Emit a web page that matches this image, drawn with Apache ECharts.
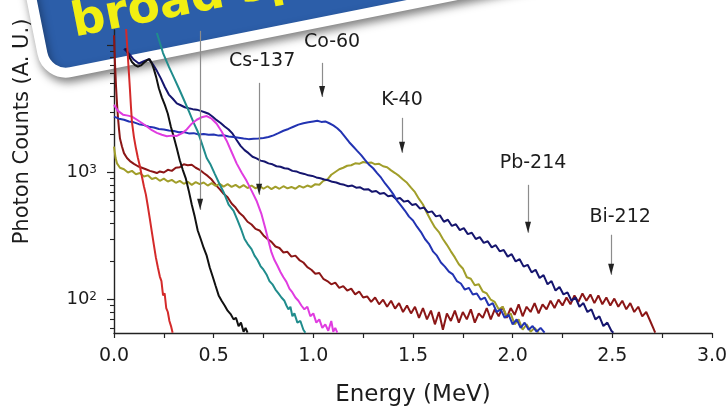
<!DOCTYPE html>
<html>
<head>
<meta charset="utf-8">
<script src="https://cdn.jsdelivr.net/npm/echarts@6/dist/echarts.min.js"></script>
<style>
  html, body { margin: 0; padding: 0; background: #ffffff; }
  #chart { width: 728px; height: 407px; }
</style>
</head>
<body>
<div id="chart"></div>
<script>
// Gamma spectra, photon counts (A. U.) against energy (MeV), one array of [energy, counts] per trace.
const redSpectrum = [[0.060,14000],[0.065,10500],[0.070,8000],[0.075,6000],[0.080,4500],[0.085,3300],[0.090,2500],[0.100,1900],[0.110,1550],[0.120,1300],[0.130,1120],[0.140,930],[0.150,780],[0.160,670],[0.170,540],[0.180,430],[0.190,340],[0.200,270],[0.210,215],[0.220,180],[0.230,152],[0.238,140],[0.246,108],[0.254,112],[0.262,86],[0.270,80],[0.278,68],[0.286,62],[0.294,55]];

const maroonSpectrum = [[0.000,12000],[0.005,7200],[0.010,4800],[0.015,3500],[0.020,2700],[0.025,2200],[0.030,1850],[0.040,1600],[0.050,1420],[0.065,1300],[0.080,1230],[0.100,1170],[0.120,1120],[0.140,1090],[0.160,1060],[0.180,1030],[0.200,1010],[0.215,990],[0.230,1020],[0.250,1000],[0.270,1050],[0.290,1030],[0.310,1090],[0.330,1100],[0.350,1160],[0.370,1140],[0.390,1150],[0.410,1090],[0.430,1050],[0.450,990],[0.470,940],[0.490,880],[0.510,800],[0.530,740],[0.550,680],[0.570,640],[0.590,570],[0.610,530],[0.630,480],[0.650,450],[0.670,410],[0.690,390],[0.710,360],[0.730,350],[0.750,320],[0.770,300],[0.790,285],[0.810,262],[0.830,255],[0.850,235],[0.870,238],[0.890,218],[0.910,222],[0.930,205],[0.950,196],[0.970,180],[0.990,172],[1.010,160],[1.030,162],[1.050,146],[1.070,140],[1.090,132],[1.110,136],[1.130,124],[1.150,128],[1.170,118],[1.190,122],[1.210,110],[1.230,116],[1.250,104],[1.270,106],[1.290,96],[1.310,104],[1.330,92],[1.350,100],[1.370,88],[1.390,98],[1.410,85],[1.430,94],[1.450,80],[1.470,90],[1.490,78],[1.510,88],[1.530,72],[1.550,86],[1.570,70],[1.590,82],[1.610,64],[1.630,80],[1.650,58],[1.670,78],[1.690,68],[1.710,82],[1.730,66],[1.750,80],[1.770,70],[1.790,84],[1.810,66],[1.830,78],[1.850,72],[1.870,86],[1.890,70],[1.910,84],[1.930,74],[1.950,88],[1.970,72],[1.990,86],[2.010,76],[2.030,92],[2.050,74],[2.070,88],[2.090,80],[2.110,94],[2.130,78],[2.150,92],[2.170,84],[2.190,98],[2.210,86],[2.230,100],[2.250,90],[2.270,104],[2.290,92],[2.310,108],[2.330,96],[2.350,112],[2.370,98],[2.390,110],[2.410,94],[2.430,108],[2.450,92],[2.470,104],[2.490,90],[2.510,102],[2.530,88],[2.550,98],[2.570,84],[2.590,94],[2.610,80],[2.630,88],[2.650,74],[2.670,80],[2.690,68],[2.705,60],[2.715,55]];

const blackSpectrum = [[0.060,9500],[0.075,8200],[0.090,7400],[0.105,7000],[0.120,6800],[0.135,6950],[0.150,7300],[0.165,7600],[0.178,7800],[0.190,7200],[0.200,6500],[0.212,5600],[0.225,4600],[0.240,3900],[0.255,3400],[0.270,2900],[0.285,2300],[0.300,1900],[0.315,1550],[0.330,1250],[0.345,1050],[0.360,900],[0.375,720],[0.390,560],[0.405,450],[0.420,350],[0.435,300],[0.450,255],[0.465,222],[0.480,180],[0.495,152],[0.510,128],[0.525,108],[0.540,98],[0.555,90],[0.570,82],[0.585,77],[0.600,70],[0.612,72],[0.625,62],[0.637,66],[0.650,56],[0.660,60],[0.670,55]];

const tealSpectrum = [[0.215,12500],[0.246,8700],[0.275,6800],[0.300,5600],[0.325,4600],[0.350,3750],[0.377,3000],[0.400,2460],[0.420,2100],[0.443,1650],[0.465,1300],[0.485,1150],[0.505,980],[0.528,820],[0.550,700],[0.575,560],[0.600,500],[0.620,420],[0.640,350],[0.655,300],[0.670,275],[0.690,250],[0.705,222],[0.720,205],[0.735,184],[0.750,172],[0.765,158],[0.780,140],[0.795,132],[0.810,120],[0.825,112],[0.840,104],[0.855,98],[0.865,90],[0.875,84],[0.885,88],[0.895,74],[0.905,78],[0.920,66],[0.935,68],[0.950,58],[0.960,55]];

const magentaSpectrum = [[0.000,3400],[0.020,3050],[0.045,2850],[0.070,2800],[0.090,2750],[0.115,2600],[0.140,2450],[0.165,2300],[0.190,2150],[0.215,2050],[0.240,1980],[0.265,1930],[0.290,1950],[0.315,1940],[0.340,2030],[0.365,2180],[0.390,2420],[0.415,2600],[0.440,2720],[0.465,2780],[0.490,2650],[0.515,2420],[0.540,2100],[0.565,1780],[0.590,1450],[0.615,1180],[0.640,1000],[0.665,860],[0.690,720],[0.715,600],[0.740,470],[0.760,360],[0.775,290],[0.790,235],[0.805,205],[0.820,185],[0.835,165],[0.850,150],[0.865,138],[0.880,122],[0.895,114],[0.910,104],[0.925,98],[0.940,90],[0.955,84],[0.970,88],[0.985,74],[1.000,78],[1.015,66],[1.030,70],[1.045,60],[1.060,64],[1.075,57],[1.090,68],[1.100,56],[1.110,60],[1.120,55]];

const blueSpectrum = [[0.000,2750],[0.025,2650],[0.050,2600],[0.075,2520],[0.100,2480],[0.125,2400],[0.150,2360],[0.175,2290],[0.200,2260],[0.225,2200],[0.250,2180],[0.275,2140],[0.300,2120],[0.325,2070],[0.350,2080],[0.375,2030],[0.400,2040],[0.425,1990],[0.450,2010],[0.475,1980],[0.500,1990],[0.525,1950],[0.550,1960],[0.575,1920],[0.600,1900],[0.625,1880],[0.650,1850],[0.675,1830],[0.700,1840],[0.725,1850],[0.750,1870],[0.775,1900],[0.800,1960],[0.825,2040],[0.850,2130],[0.875,2200],[0.900,2290],[0.925,2380],[0.950,2440],[0.975,2480],[1.000,2520],[1.020,2550],[1.040,2500],[1.060,2520],[1.080,2440],[1.100,2350],[1.120,2230],[1.140,2080],[1.160,1900],[1.180,1730],[1.200,1600],[1.220,1480],[1.240,1370],[1.260,1250],[1.280,1150],[1.300,1080],[1.320,990],[1.340,910],[1.360,820],[1.380,750],[1.400,680],[1.420,600],[1.440,550],[1.460,500],[1.480,450],[1.500,420],[1.520,375],[1.540,340],[1.560,300],[1.580,275],[1.600,240],[1.620,222],[1.640,196],[1.660,182],[1.680,166],[1.700,158],[1.720,140],[1.740,134],[1.760,120],[1.780,124],[1.800,110],[1.820,112],[1.840,100],[1.860,104],[1.880,90],[1.900,94],[1.920,80],[1.940,84],[1.960,72],[1.980,76],[2.000,64],[2.020,70],[2.040,60],[2.060,66],[2.080,58],[2.100,62],[2.120,56],[2.140,60],[2.160,55]];

const navySpectrum = [[0.050,9400],[0.075,8600],[0.100,7700],[0.125,7200],[0.150,7500],[0.175,7800],[0.195,7100],[0.215,6300],[0.235,5500],[0.255,4700],[0.275,4100],[0.295,3800],[0.315,3500],[0.335,3380],[0.355,3260],[0.375,3200],[0.395,3150],[0.415,3120],[0.435,3050],[0.455,2980],[0.475,2900],[0.495,2740],[0.515,2580],[0.535,2450],[0.555,2300],[0.575,2180],[0.595,2020],[0.615,1800],[0.635,1620],[0.655,1500],[0.675,1420],[0.695,1330],[0.715,1290],[0.735,1240],[0.755,1220],[0.775,1180],[0.795,1160],[0.815,1120],[0.835,1110],[0.855,1080],[0.875,1070],[0.895,1030],[0.915,1020],[0.935,990],[0.955,975],[0.975,950],[0.995,940],[1.015,915],[1.035,900],[1.055,880],[1.075,870],[1.095,845],[1.115,835],[1.135,812],[1.155,800],[1.175,780],[1.195,790],[1.215,760],[1.235,765],[1.255,735],[1.275,740],[1.295,705],[1.315,715],[1.335,680],[1.355,690],[1.375,650],[1.395,660],[1.415,620],[1.435,630],[1.455,590],[1.475,600],[1.495,556],[1.515,565],[1.535,520],[1.555,530],[1.575,486],[1.595,495],[1.615,452],[1.635,460],[1.655,410],[1.675,425],[1.695,380],[1.715,392],[1.735,352],[1.755,365],[1.775,328],[1.795,336],[1.815,300],[1.835,310],[1.855,280],[1.875,288],[1.895,258],[1.915,268],[1.935,240],[1.955,246],[1.975,218],[1.995,228],[2.015,200],[2.035,208],[2.055,182],[2.075,188],[2.095,164],[2.115,172],[2.135,148],[2.155,156],[2.175,132],[2.195,140],[2.215,118],[2.235,126],[2.255,110],[2.275,114],[2.295,98],[2.315,104],[2.335,88],[2.355,94],[2.375,80],[2.395,84],[2.415,70],[2.435,74],[2.455,62],[2.475,66],[2.495,57],[2.505,55]];

const oliveSpectrum = [[0.000,1600],[0.008,1300],[0.015,1180],[0.030,1090],[0.050,1060],[0.070,1000],[0.090,1030],[0.110,970],[0.130,990],[0.150,930],[0.170,950],[0.190,890],[0.210,910],[0.230,860],[0.250,895],[0.270,850],[0.290,875],[0.310,830],[0.330,860],[0.350,815],[0.370,845],[0.390,800],[0.410,840],[0.430,810],[0.450,835],[0.470,790],[0.490,825],[0.510,785],[0.530,815],[0.550,775],[0.570,810],[0.590,770],[0.610,800],[0.630,760],[0.650,795],[0.670,755],[0.690,790],[0.710,750],[0.730,785],[0.750,745],[0.770,780],[0.790,740],[0.810,775],[0.830,745],[0.850,780],[0.870,750],[0.890,770],[0.910,745],[0.930,785],[0.950,760],[0.970,790],[0.990,770],[1.010,810],[1.030,800],[1.050,860],[1.070,880],[1.090,960],[1.110,1010],[1.130,1060],[1.150,1090],[1.170,1130],[1.190,1140],[1.210,1180],[1.230,1170],[1.250,1210],[1.270,1190],[1.290,1200],[1.310,1160],[1.330,1170],[1.350,1120],[1.370,1100],[1.390,1040],[1.410,990],[1.430,940],[1.450,880],[1.470,830],[1.490,760],[1.510,700],[1.530,620],[1.550,560],[1.570,480],[1.590,420],[1.610,370],[1.630,340],[1.650,300],[1.670,270],[1.690,240],[1.710,215],[1.730,190],[1.750,176],[1.770,150],[1.790,146],[1.810,130],[1.830,132],[1.850,116],[1.870,112],[1.890,100],[1.910,96],[1.930,84],[1.950,88],[1.970,74],[1.990,78],[2.010,64],[2.030,70],[2.050,58],[2.070,64],[2.090,56],[2.110,60],[2.130,55]];

// Axis ranges and ticks
const energyRange = [0, 3];
const energyStep = 0.5;
const countRange = [54.7, 13200];
const countMajorTicks = [100, 1000, 10000];
const countMinorTicks = [60, 70, 80, 90, 200, 300, 400, 500, 600, 700, 800, 900, 2000, 3000, 4000, 5000, 6000, 7000, 8000, 9000];
const countLabels = [100, 1000];

// Isotope annotations: label anchors and arrows [energy, counts]
const isotopeNames = ['Cs-137', 'Co-60', 'K-40', 'Pb-214', 'Bi-212'];
const isotopeLabelAt = [[0.743, 7540], [1.094, 10640], [1.445, 3720], [2.102, 1190], [2.539, 449]];
const arrowEnergy = [0.432, 0.728, 1.044, 1.445, 2.077, 2.494];
const arrowStart = [13000, 5070, 7280, 2690, 800, 324];
const arrowTip = [509, 668, 3930, 1430, 336, 157];

const FONT = 'DejaVu Sans';
const INK = '#1c1c1c';

function trace(data, color) {
  return {
    type: 'line',
    data: data,
    showSymbol: false,
    symbol: 'none',
    clip: true,
    lineStyle: { color: color, width: 2 },
    emphasis: { disabled: true },
    animation: false
  };
}

const arrowLines = arrowEnergy.map((e, i) => [
  { coord: [e, arrowStart[i]] },
  { coord: [e, arrowTip[i]] }
]);

const arrowHeads = arrowEnergy.map((e, i) => ({
  coord: [e, arrowTip[i]],
  symbol: 'triangle',
  symbolSize: [6, 11],
  symbolRotate: 180,
  symbolOffset: [0, -5.5],
  itemStyle: { color: '#222' },
  label: { show: false }
}));

const isotopeTexts = isotopeNames.map((name, i) => ({
  coord: isotopeLabelAt[i],
  symbol: 'circle',
  symbolSize: 0,
  label: {
    show: true,
    formatter: name,
    position: 'inside',
    color: INK,
    fontFamily: FONT,
    fontSize: 19
  }
}));

const chart = echarts.init(document.getElementById('chart'), null, { renderer: 'canvas' });

chart.setOption({
  backgroundColor: '#ffffff',
  animation: false,
  grid: { left: 114, right: 16, top: 30, bottom: 74, containLabel: false, outerBoundsMode: 'none' },
  xAxis: {
    type: 'value',
    min: energyRange[0],
    max: energyRange[1],
    interval: energyStep,
    name: 'Energy (MeV)',
    nameLocation: 'middle',
    nameGap: 51,
    nameTextStyle: { fontFamily: FONT, fontSize: 23, color: INK },
    axisLine: { lineStyle: { color: '#222', width: 1.4 } },
    axisTick: { show: true, inside: false, length: 5, lineStyle: { color: '#222', width: 1.2 } },
    minorTick: { show: true, splitNumber: 2, length: 5, lineStyle: { color: '#222', width: 1.2 } },
    axisLabel: {
      fontFamily: FONT, fontSize: 19, color: INK, margin: 14,
      formatter: v => v.toFixed(1)
    },
    splitLine: { show: false },
    minorSplitLine: { show: false }
  },
  yAxis: [
    {
      type: 'log',
      logBase: 10,
      min: countRange[0],
      max: countRange[1],
      name: 'Photon Counts (A. U.)',
      nameLocation: 'middle',
      nameGap: 81,
      nameRotate: 90,
      nameTextStyle: { fontFamily: FONT, fontSize: 21, color: INK, padding: [0, 0, 0, 100] },
      axisLine: { show: true, lineStyle: { color: '#222', width: 1.4 } },
      axisTick: { show: true, inside: false, length: 7, customValues: countMajorTicks, lineStyle: { color: '#222', width: 1.2 } },
      axisLabel: {
        customValues: countLabels,
        margin: 17,
        formatter: v => '{b|10}{s|' + Math.round(Math.log10(v)) + '}',
        rich: {
          b: { fontFamily: FONT, fontSize: 18, color: INK },
          s: { fontFamily: FONT, fontSize: 12, color: INK, verticalAlign: 'top' }
        }
      },
      splitLine: { show: false }
    },
    {
      type: 'log',
      logBase: 10,
      min: countRange[0],
      max: countRange[1],
      position: 'left',
      axisLine: { show: false },
      axisTick: { show: true, inside: false, length: 4, customValues: countMinorTicks, lineStyle: { color: '#222', width: 1.1 } },
      axisLabel: { show: false },
      splitLine: { show: false }
    }
  ],
  series: [
    trace(maroonSpectrum, '#8b1616'),
    trace(oliveSpectrum, '#a19e2a'),
    trace(navySpectrum, '#15156e'),
    trace(blueSpectrum, '#2233b2'),
    trace(blackSpectrum, '#111111'),
    trace(tealSpectrum, '#208c8c'),
    trace(magentaSpectrum, '#e03ce0'),
    trace(redSpectrum, '#d42a2a'),
    {
      type: 'line',
      data: [],
      silent: true,
      markLine: {
        silent: true,
        animation: false,
        symbol: ['none', 'none'],
        label: { show: false },
        lineStyle: { color: '#8c8c8c', width: 1.2, type: 'solid' },
        emphasis: { disabled: true },
        data: arrowLines
      },
      markPoint: {
        silent: true,
        animation: false,
        data: arrowHeads.concat(isotopeTexts)
      }
    }
  ],
  graphic: [
    {
      type: 'group',
      x: 51,
      y: 71,
      rotation: 0.197,
      z: 100,
      children: [
        {
          type: 'rect',
          shape: { x: -5, y: -180, width: 705, height: 185, r: 24 },
          style: {
            fill: '#2c5ea9',
            stroke: '#ffffff',
            lineWidth: 10,
            shadowBlur: 10,
            shadowColor: 'rgba(0,0,0,0.4)',
            shadowOffsetX: 2,
            shadowOffsetY: 5
          }
        },
        {
          type: 'text',
          style: {
            text: 'broad spectrum',
            x: 30,
            y: -18,
            fill: '#f2ef12',
            font: 'bold 47px "DejaVu Sans"',
            textVerticalAlign: 'bottom'
          }
        }
      ]
    }
  ]
});
</script>
</body>
</html>
